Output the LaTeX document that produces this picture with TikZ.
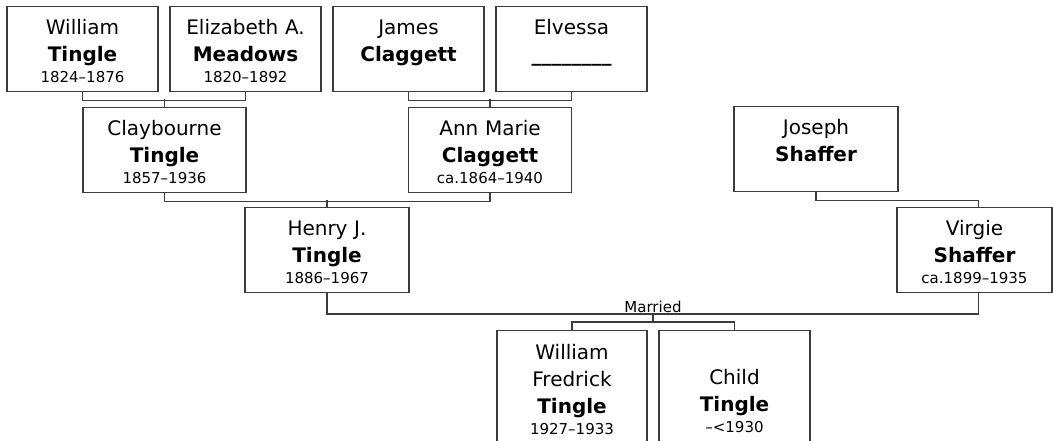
\documentclass[tikz,border=0pt]{standalone}
\usepackage{fontspec}
\setmainfont{DejaVu Sans}
\usetikzlibrary{positioning}

\definecolor{linegray}{HTML}{3C3C3C}
\newcommand{\namefont}{\fontsize{20}{27}\selectfont}
\newcommand{\datefont}{\fontsize{15}{18}\selectfont}

\begin{document}
\begin{tikzpicture}[
    x=1pt, y=-1pt,
    % Boîtes des personnes, texte calé en haut
    person/.style={draw=linegray, line width=1.3pt, inner sep=0pt, anchor=north,
        align=center, font=\namefont, text width=#1,
        text height=28pt, text depth=57pt},
    person/.default=151pt,
    link/.style={draw=linegray, line width=1.3pt}
]
\useasboundingbox (0,0) rectangle (1053,441);

% Grands-parents
\node[person] (wt) at (82.5,6) {William\\\textbf{Tingle}\\[-6pt]{\datefont 1824–1876}};
\node[person] (em) at (245.5,6) {Elizabeth A.\\\textbf{Meadows}\\[-6pt]{\datefont 1820–1892}};
\node[person] (jc) at (408.5,6) {James\\\textbf{Claggett}};
\node[person] (el) at (571.5,6) {Elvessa\\\textbf{\_\_\_\_\_\_\_\_}};

% Parents
\node[person=163pt] (cb) at (164.5,107) {Claybourne\\\textbf{Tingle}\\[-6pt]{\datefont 1857–1936}};
\node[person=163pt] (am) at (490,107) {Ann Marie\\\textbf{Claggett}\\[-6pt]{\datefont ca.1864–1940}};
\node[person=164pt] (js) at (816,106) {Joseph\\\textbf{Shaffer}};

% Couple
\node[person=164pt] (ht) at (327,207) {Henry J.\\\textbf{Tingle}\\[-6pt]{\datefont 1886–1967}};
\node[person=155pt] (vs) at (974.5,207) {Virgie\\\textbf{Shaffer}\\[-6pt]{\datefont ca.1899–1935}};

% Enfants
\node[person=150pt, text height=29pt, text depth=91pt] (wf) at (572,330)
    {William\\Fredrick\\\textbf{Tingle}\\[-6pt]{\datefont 1927–1933}};
\node[person=151pt, text height=54pt, text depth=66pt] (ch) at (734.5,330)
    {Child\\\textbf{Tingle}\\[-6pt]{\datefont –<1930}};

% Liens
\draw[link] (wt.south) -- ++(0,8) -| (em.south);
\draw[link] (cb.north) -- ++(0,-8);
\draw[link] (jc.south) -- ++(0,8) -| (el.south);
\draw[link] (am.north) -- ++(0,-8);
\draw[link] (cb.south) -- ++(0,8) -| (am.south);
\draw[link] (ht.north) -- ++(0,-7);
\draw[link] (js.south) -- ++(0,8) -| ([xshift=4pt]vs.north);

\coordinate (wed) at (653,314);
\draw[link] (ht.south) |- (wed) -| ([xshift=4pt]vs.south);
\node[above=1pt of wed, font=\datefont, inner sep=0pt] (married) {Married};
\draw[link] (wed) -- ++(0,8) coordinate (kids);
\draw[link] (wf.north) |- (kids) -| (ch.north);
\end{tikzpicture}
\end{document}
